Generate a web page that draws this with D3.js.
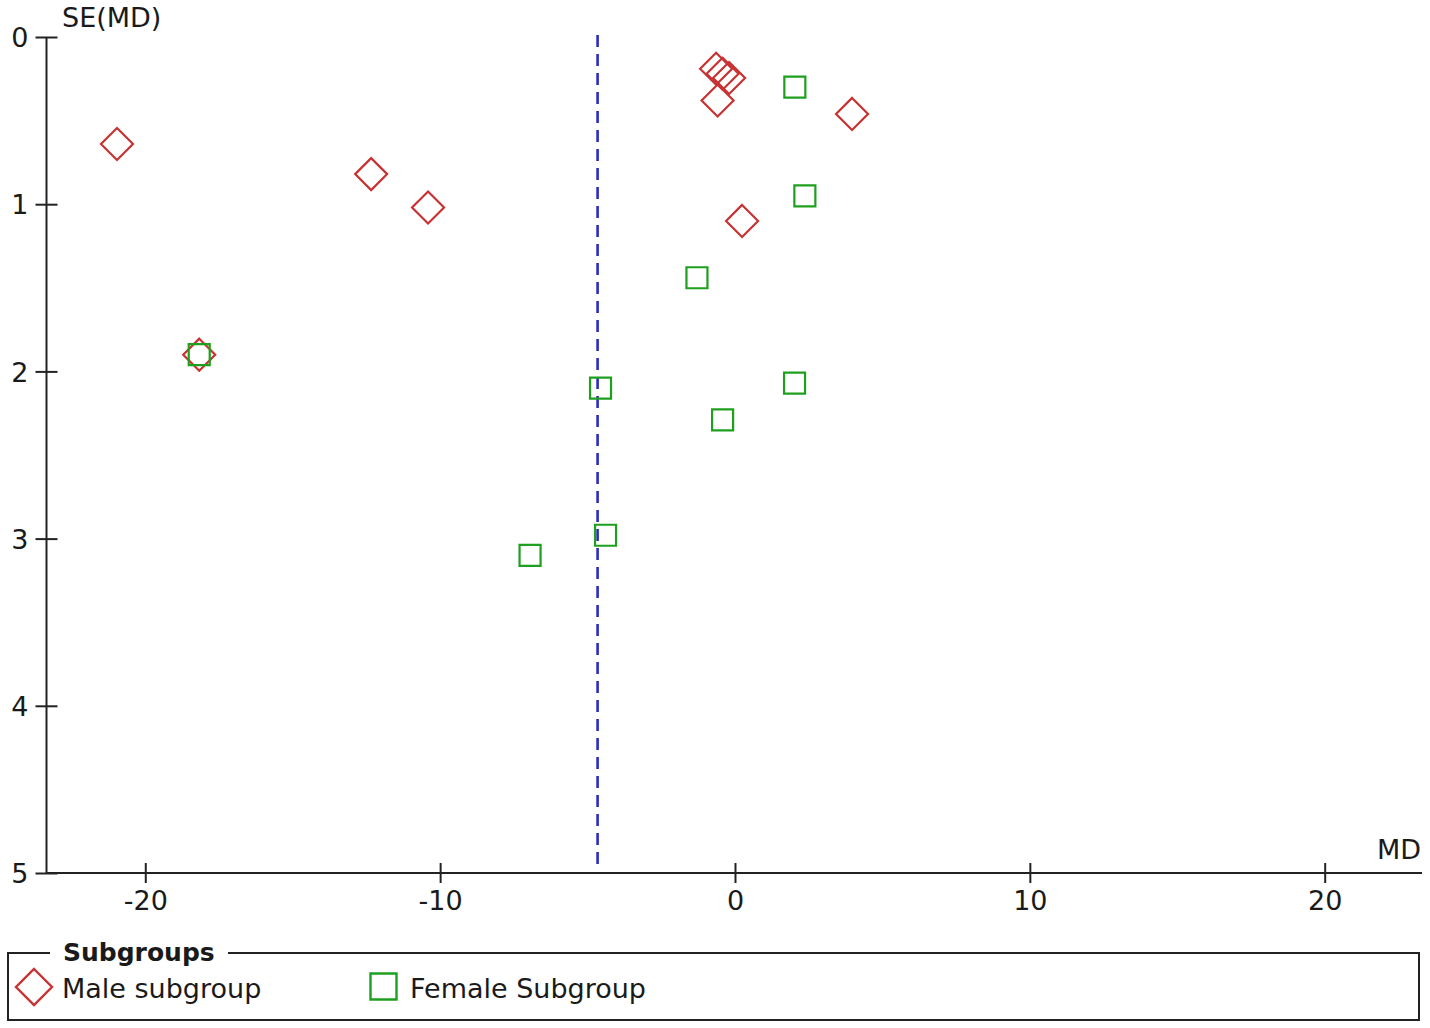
<!DOCTYPE html>
<html>
<head>
<meta charset="utf-8">
<script src="https://cdn.jsdelivr.net/npm/d3@7"></script>
<style>
  html, body { margin: 0; padding: 0; background: #fff; }
  svg { display: block; }
  text { font-family: "DejaVu Sans", sans-serif; fill: #1a1a1a; }
</style>
</head>
<body>
<svg id="chart" width="1430" height="1028"></svg>
<script>
// ---- Data ----
const maleMD = [-20.96, -12.34, -10.41, -18.17, -0.64, -0.42, -0.20, -0.59, 3.97, 0.24];
const maleSE = [0.64, 0.82, 1.02, 1.90, 0.19, 0.22, 0.245, 0.38, 0.46, 1.10];
const femaleMD = [2.03, 2.37, -1.29, -4.56, 2.02, -0.42, -4.39, -6.95, -18.17];
const femaleSE = [0.30, 0.95, 1.44, 2.10, 2.07, 2.29, 2.98, 3.10, 1.90];
const pooledMD = -4.66;
const xTicks = [-20, -10, 0, 10, 20];
const yTicks = [0, 1, 2, 3, 4, 5];
const legendLabels = ["Male subgroup", "Female Subgroup"];
const legendTitle = "Subgroups";
const xLabel = "MD";
const yLabel = "SE(MD)";

// ---- Layout ----
const svg = d3.select("#chart");
const axisColor = "#222";
const red = "#c83232";
const green = "#1ea01e";
const blue = "#2b2bbd";

const x = d3.scaleLinear().domain([-23.35, 23.3]).range([46.5, 1422]);
const y = d3.scaleLinear().domain([0, 5]).range([37, 873]);

// pooled dashed line
svg.append("line")
  .attr("x1", x(pooledMD)).attr("x2", x(pooledMD))
  .attr("y1", 35).attr("y2", 865)
  .attr("stroke", blue).attr("stroke-width", 2.6)
  .attr("stroke-dasharray", "12,7");

// X axis
const xAxisG = svg.append("g").attr("transform", `translate(0,${y(5)})`)
  .call(d3.axisBottom(x).tickValues(xTicks).tickFormat(d => String(d)).tickSizeOuter(0));
xAxisG.select(".domain").remove();
xAxisG.append("line").attr("x1", x.range()[0]).attr("x2", x.range()[1])
  .attr("stroke", axisColor).attr("stroke-width", 2);
xAxisG.selectAll(".tick line").attr("y1", -10).attr("y2", 10)
  .attr("stroke", axisColor).attr("stroke-width", 2);
xAxisG.selectAll(".tick text").attr("y", 37).attr("dy", 0)
  .style("font-size", "27px").style("font-family", "DejaVu Sans, sans-serif").attr("fill", "#1a1a1a");

// Y axis
const yAxisG = svg.append("g").attr("transform", `translate(${x.range()[0]},0)`)
  .call(d3.axisLeft(y).tickValues(yTicks).tickFormat(d => String(d)).tickSizeOuter(0));
yAxisG.select(".domain").remove();
yAxisG.append("line").attr("y1", y(0)).attr("y2", y(5))
  .attr("stroke", axisColor).attr("stroke-width", 2);
yAxisG.selectAll(".tick line").attr("x1", -11).attr("x2", 11)
  .attr("stroke", axisColor).attr("stroke-width", 2);
yAxisG.selectAll(".tick text").attr("x", -18).attr("dy", "0.36em")
  .style("font-size", "27px").style("font-family", "DejaVu Sans, sans-serif").attr("fill", "#1a1a1a");

// axis titles
svg.append("text").attr("x", 62).attr("y", 27).style("font-size", "27px").text(yLabel);
svg.append("text").attr("x", 1421).attr("y", 859).attr("text-anchor", "end").style("font-size", "27px").text(xLabel);

// markers
const diamondPath = (r) => `M0,${-r}L${r},0L0,${r}L${-r},0Z`;
const squarePath = (h) => `M${-h},${-h}H${h}V${h}H${-h}Z`;

const maleData = maleMD.map((d, i) => ({md: d, se: maleSE[i]}));
const femaleData = femaleMD.map((d, i) => ({md: d, se: femaleSE[i]}));

svg.append("g").selectAll("path").data(maleData).join("path")
  .attr("transform", d => `translate(${x(d.md)},${y(d.se)})`)
  .attr("d", diamondPath(16))
  .attr("fill", "none").attr("stroke", red).attr("stroke-width", 2.2);

svg.append("g").selectAll("path").data(femaleData).join("path")
  .attr("transform", d => `translate(${x(d.md)},${y(d.se)})`)
  .attr("d", squarePath(10.5))
  .attr("fill", "none").attr("stroke", green).attr("stroke-width", 2.2);

// legend
const lg = svg.append("g");
lg.append("path")
  .attr("d", "M50,953 H8 V1020 H1419 V953 H228")
  .attr("fill", "none").attr("stroke", axisColor).attr("stroke-width", 2);
lg.append("text").attr("x", 63).attr("y", 961)
  .style("font-size", "25px").style("font-weight", "bold").text(legendTitle);
lg.append("path").attr("transform", "translate(34,987)").attr("d", diamondPath(18))
  .attr("fill", "none").attr("stroke", red).attr("stroke-width", 2.4);
lg.append("text").attr("x", 62).attr("y", 998).style("font-size", "27px").text(legendLabels[0]);
lg.append("path").attr("transform", "translate(383.5,986.5)").attr("d", squarePath(13))
  .attr("fill", "none").attr("stroke", green).attr("stroke-width", 2.4);
lg.append("text").attr("x", 410).attr("y", 998).style("font-size", "27px").text(legendLabels[1]);
</script>
</body>
</html>
